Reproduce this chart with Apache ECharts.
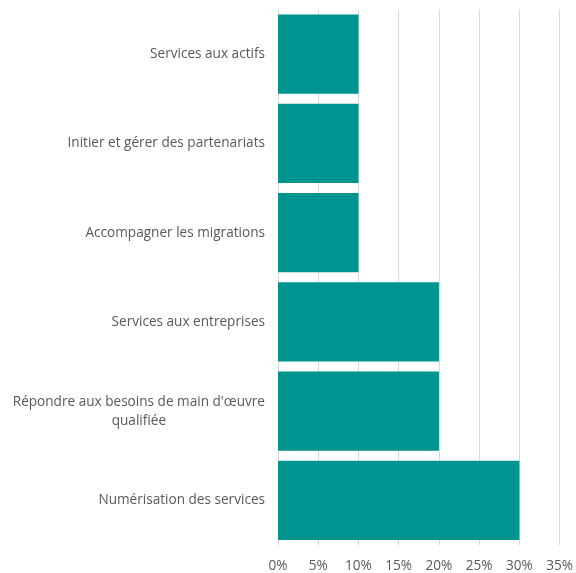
<!DOCTYPE html>
<html>
<head>
<meta charset="utf-8">
<script src="https://cdn.jsdelivr.net/npm/echarts@6/dist/echarts.min.js"></script>
<style>
  html, body { margin: 0; padding: 0; background: #fff; }
  #chart { width: 576px; height: 573px; }
</style>
</head>
<body>
<div id="chart"></div>
<script>
// Categories listed bottom to top (category axis starts at the bottom)
const categories = [
  "Numérisation des services",
  "Répondre aux besoins de main d'œuvre\nqualifiée",
  "Services aux entreprises",
  "Accompagner les migrations",
  "Initier et gérer des partenariats",
  "Services aux actifs"
];
// Share of responses, in percent
const values = [30, 20, 20, 10, 10, 10];
const xTicks = { min: 0, max: 35, step: 5 };

const chart = echarts.init(document.getElementById('chart'));

const labelFont = '"Open Sans", "Liberation Sans", sans-serif';
const labelSize = 13.6;

chart.setOption({
  animation: false,
  grid: { left: 278, right: 14, top: 9.5, bottom: 24.5, containLabel: false },
  xAxis: {
    type: 'value',
    min: xTicks.min,
    max: xTicks.max,
    interval: xTicks.step,
    axisLine: { show: false },
    axisTick: { show: false },
    splitLine: { show: true, lineStyle: { color: '#d9d9d9', width: 1 } },
    axisLabel: {
      formatter: v => v + '%',
      color: '#595959',
      fontSize: labelSize,
      fontFamily: labelFont,
      margin: 14
    }
  },
  yAxis: {
    type: 'category',
    data: categories,
    axisLine: { show: false },
    axisTick: { show: false },
    splitLine: { show: false },
    axisLabel: {
      margin: 13,
      color: '#595959',
      fontSize: labelSize,
      fontFamily: labelFont,
      lineHeight: 19,
      formatter: function (name) {
        const lines = name.split('\n');
        if (lines.length === 1) return '{r|' + name + '}';
        return lines.map(l => '{c|' + l + '}').join('\n');
      },
      rich: {
        r: { color: '#595959', fontSize: labelSize, fontFamily: labelFont, lineHeight: 19 },
        c: { color: '#595959', fontSize: labelSize, fontFamily: labelFont, lineHeight: 19, align: 'center' }
      }
    }
  },
  series: [{
    type: 'bar',
    data: values,
    barCategoryGap: '11%',
    itemStyle: { color: '#009490' }
  }]
});
</script>
</body>
</html>
